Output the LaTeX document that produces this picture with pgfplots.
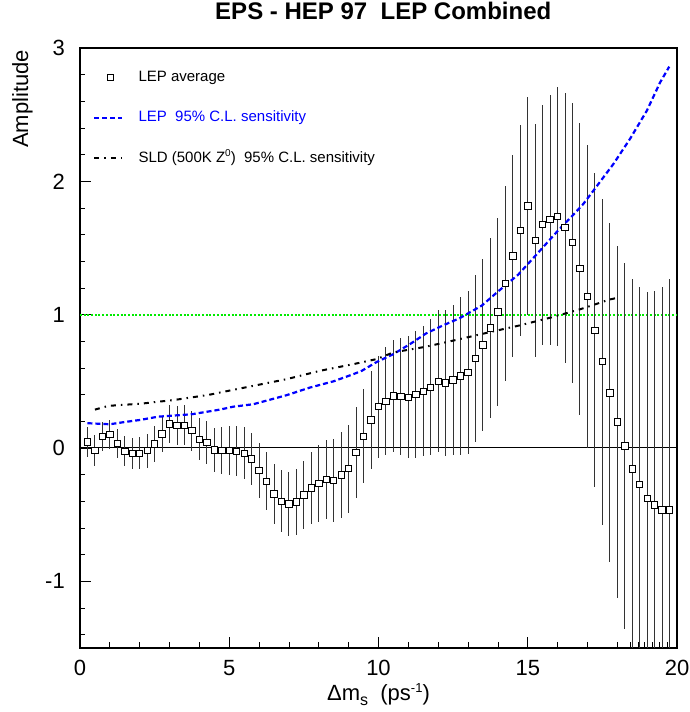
\documentclass[border=0pt]{standalone}
\usepackage{fontspec}
\setmainfont{Liberation Sans}
\usepackage{pgfplots}
\usepackage{pgfplotstable}
\pgfplotsset{compat=1.18}
\definecolor{lepblue}{RGB}{0,0,255}
\definecolor{lgreen}{RGB}{0,235,0}
\pgfplotsset{
  markleg/.style={legend image code/.code={\draw[mark repeat=2, mark phase=2, ##1, mark size=2.8bp] plot coordinates {(0bp,0bp) (16bp,0bp) (32bp,0bp)};}},
  lineleg/.style={legend image code/.code={\draw[##1] (0bp,0bp) -- (28bp,0bp);}},
}

\pgfplotstableread{
x y e
0.25 0.045 0.109
0.5 -0.02 0.117
0.75 0.085 0.107
1.0 0.10 0.107
1.25 0.035 0.11
1.5 -0.025 0.112
1.75 -0.04 0.115
2.0 -0.04 0.119
2.25 -0.02 0.128
2.5 0.03 0.133
2.75 0.105 0.138
3.0 0.18 0.142
3.25 0.17 0.148
3.5 0.17 0.15
3.75 0.13 0.15
4.0 0.065 0.158
4.25 0.04 0.163
4.5 -0.015 0.167
4.75 -0.02 0.175
5.0 -0.02 0.184
5.25 -0.025 0.188
5.5 -0.04 0.194
5.75 -0.083 0.198
6.0 -0.17 0.207
6.25 -0.25 0.217
6.5 -0.346 0.226
6.75 -0.40 0.233
7.0 -0.42 0.243
7.25 -0.406 0.248
7.5 -0.353 0.257
7.75 -0.30 0.272
8.0 -0.266 0.286
8.25 -0.236 0.296
8.5 -0.245 0.31
8.75 -0.203 0.32
9.0 -0.155 0.33
9.25 -0.033 0.341
9.5 0.088 0.351
9.75 0.21 0.367
10.0 0.31 0.382
10.25 0.35 0.405
10.5 0.39 0.422
10.75 0.386 0.439
11.0 0.38 0.457
11.25 0.40 0.474
11.5 0.426 0.489
11.75 0.456 0.51
12.0 0.50 0.533
12.25 0.489 0.549
12.5 0.51 0.564
12.75 0.54 0.589
13.0 0.566 0.608
13.25 0.67 0.627
13.5 0.772 0.648
13.75 0.90 0.676
14.0 1.02 0.704
14.25 1.232 0.733
14.5 1.44 0.761
14.75 1.63 0.79
15.0 1.816 0.819
15.25 1.557 0.872
15.5 1.675 0.90
15.75 1.713 0.938
16.0 1.736 0.974
16.25 1.652 1.013
16.5 1.54 1.05
16.75 1.345 1.095
17.0 1.135 1.135
17.25 0.882 1.178
17.5 0.647 1.224
17.75 0.414 1.27
18.0 0.195 1.319
18.25 0.014 1.372
18.5 -0.158 1.425
18.75 -0.273 1.48
19.0 -0.379 1.546
19.25 -0.428 1.606
19.5 -0.466 1.67
19.75 -0.466 1.73
}\lepdata

\pgfplotstableread{
x y
0.25 0.186
1.0 0.178
1.5 0.195
2.0 0.21
2.62 0.235
3.74 0.253
4.69 0.288
5.14 0.31
5.8 0.328
6.92 0.396
7.7 0.453
8.49 0.50
9.16 0.554
9.44 0.579
9.94 0.645
10.5 0.704
11.06 0.78
11.6 0.86
12.12 0.915
12.73 0.975
13.46 1.068
14.01 1.175
14.68 1.30
15.41 1.48
15.97 1.62
16.53 1.75
16.86 1.83
17.25 1.945
17.87 2.13
18.43 2.32
18.99 2.53
19.43 2.74
19.74 2.86
}\lepsens

\pgfplotstableread{
x y
0.5 0.288
0.95 0.316
2.07 0.333
3.18 0.361
4.3 0.398
4.69 0.416
5.8 0.466
6.92 0.516
8.04 0.579
9.16 0.629
9.94 0.667
10.5 0.717
11.6 0.76
12.73 0.817
13.73 0.869
14.74 0.92
15.75 0.977
16.75 1.04
17.23 1.075
17.73 1.113
17.98 1.125
}\sldsens

\begin{document}
\begin{tikzpicture}
\begin{axis}[
  name=main,
  scale only axis, width=597bp, height=600bp,
  xmin=0, xmax=20, ymin=-1.5, ymax=3,
  xtick={0,5,10,15,20},
  minor xtick={1,2,3,4,6,7,8,9,11,12,13,14,16,17,18,18.45,18.7,18.92,19.17,19.41,19.67},
  ytick={-1,0,1,2,3},
  minor ytick={-1.4,-1.2,-0.8,-0.6,-0.4,-0.2,0.2,0.4,0.6,0.8,1.2,1.4,1.6,1.8,2.2,2.4,2.6,2.8},
  tick pos=left, tick align=inside,
  major tick length=11bp, minor tick length=5.5bp,
  every tick/.style={black, line width=0.8bp},
  axis line style={line width=1.2bp},
  /pgf/number format/assume math mode=true,
  tick label style={font=\fontsize{22bp}{26bp}\selectfont},
  xticklabel style={inner sep=0pt, anchor=north, yshift=-12bp},
  yticklabel style={inner sep=0pt, anchor=east, xshift=-15bp},
  every axis title shift=0pt,
  title={EPS - HEP 97\ \ LEP Combined},
  title style={at={(rel axis cs:0.508,1)}, anchor=base, yshift=28bp, inner sep=0pt,
    font=\fontsize{24bp}{28bp}\selectfont\bfseries},
  xlabel={Δm\raisebox{-5bp}{\fontsize{16bp}{18bp}\selectfont s}\ \ (ps\raisebox{8bp}{\fontsize{13bp}{15bp}\selectfont -1})},
  xlabel style={at={(rel axis cs:0.5,0)}, anchor=base, yshift=-52bp, inner sep=0pt,
    font=\fontsize{22bp}{26bp}\selectfont},
  ylabel={Amplitude},
  ylabel style={at={(rel axis cs:-0.0871,0.997)}, anchor=base east, inner sep=0pt,
    font=\fontsize{22bp}{26bp}\selectfont},
  legend style={at={(rel axis cs:0.022,0.963)}, anchor=north west, draw=none, fill=none,
    inner sep=0pt, row sep=26.5bp,
    font=\fontsize{15bp}{18bp}\selectfont,
    nodes={inner sep=0pt, text height=11bp, text depth=3bp},
    /tikz/every odd column/.append style={column sep=15bp}},
  legend cell align=left,
]
\addplot[black, line width=1bp, forget plot] coordinates {(0,0) (20,0)};
\addplot[lgreen, line width=2bp, dash pattern=on 2bp off 1.7bp, forget plot] coordinates {(0,1) (20,1)};

\addplot[only marks, mark=square*, mark size=3.2bp,
  mark options={fill=white, draw=black, line width=0.9bp, solid},
  markleg,
  error bars/.cd, y dir=both, y explicit, error mark=none,
  error bar style={line width=1bp, black!80}]
  table[x=x, y=y, y error=e] {\lepdata};
\addlegendentry{LEP average}

\addplot[lepblue, line width=2.2bp, dash pattern=on 5bp off 3bp, lineleg] table[x=x, y=y] {\lepsens};
\addlegendentry{\textcolor{lepblue}{LEP\ \ 95\% C.L. sensitivity}}

\addplot[black, line width=2bp, dash pattern=on 5bp off 5bp on 1.5bp off 5bp, lineleg] table[x=x, y=y] {\sldsens};
\addlegendentry{SLD (500K Z\raisebox{6bp}{\fontsize{10bp}{12bp}\selectfont 0})\ \ 95\% C.L. sensitivity}
\end{axis}
\pgfresetboundingbox
\path ([xshift=-80bp,yshift=-64bp]main.south west) rectangle ([xshift=13bp,yshift=48bp]main.north east);
\end{tikzpicture}
\end{document}
